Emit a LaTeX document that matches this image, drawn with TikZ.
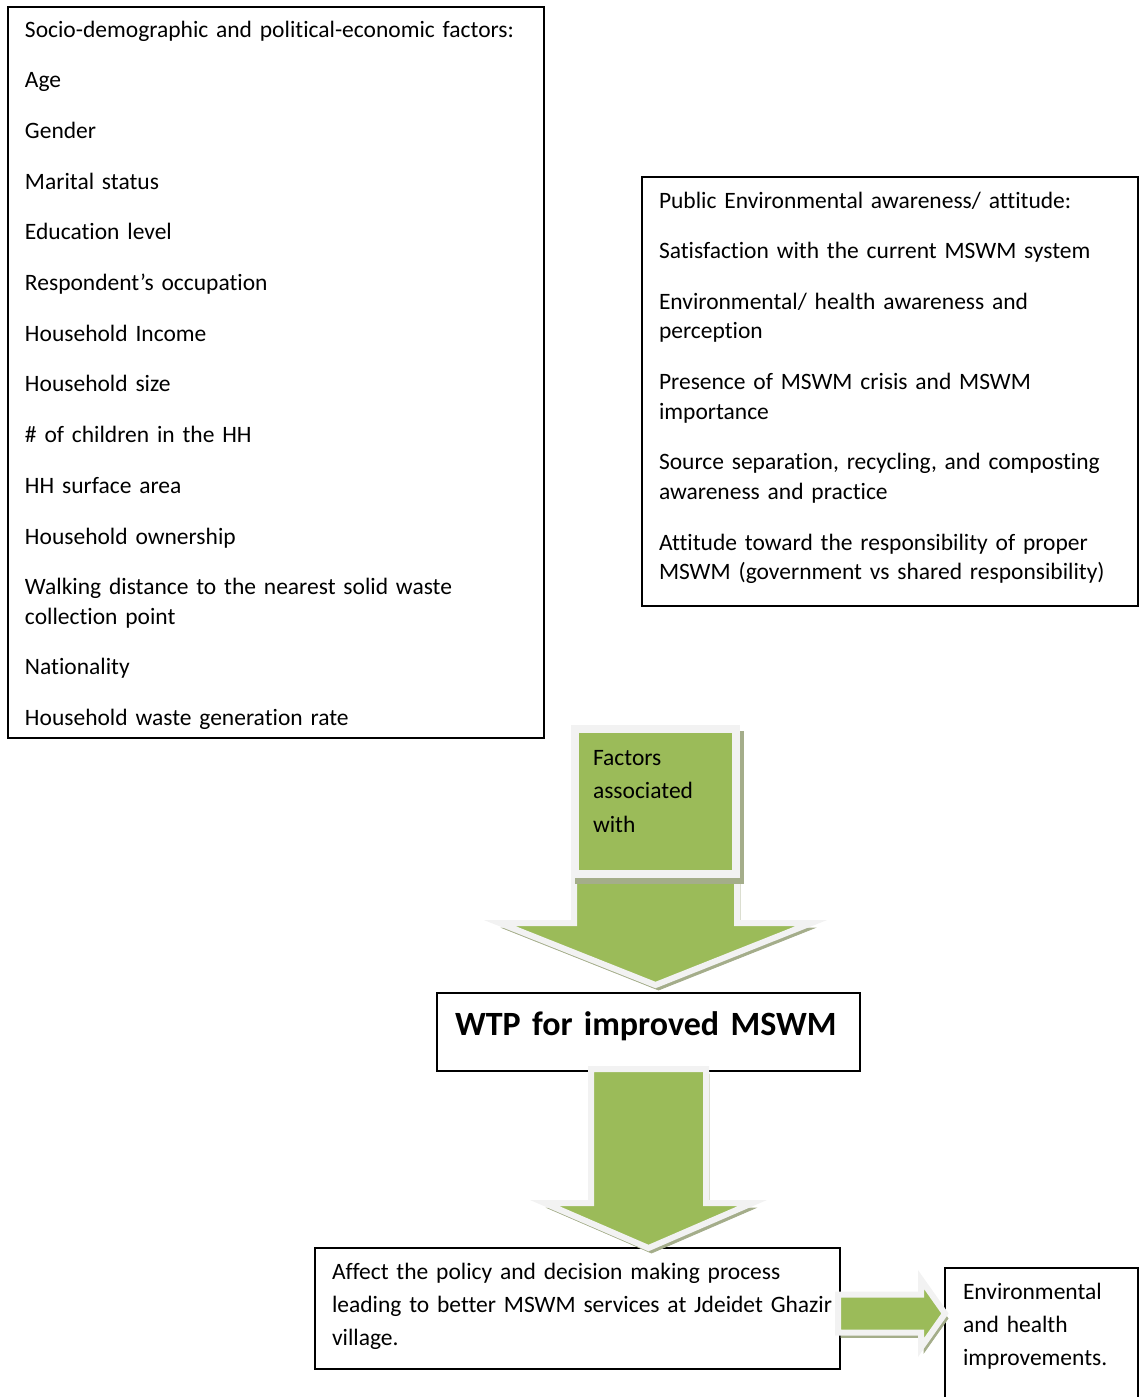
\documentclass[tikz,border=0pt]{standalone}
\usepackage{fontspec}
\setmainfont{Carlito}[Ligatures=NoCommon,WordSpace=0.85]
\usetikzlibrary{calc,backgrounds}
\definecolor{leaf}{HTML}{9BBB59}
\definecolor{rim}{HTML}{F2F2F2}
\definecolor{shade}{HTML}{A4AD8A}
\newcommand\bodyfont{\fontsize{11.75pt}{14.75pt}\selectfont}
\newcommand\wideline{\fontsize{11.75pt}{16.6pt}\selectfont}
% block arrows: #1 start, #2 tip, #3 shaft half width, #4 head half width, #5 head length
\newcommand\blockdown[5]{\path[bigarrow] let \p1=(#1), \p2=(#2) in (\x1-#3,\y1) -- (\x1+#3,\y1) -- (\x1+#3,\y2+#5) -- (\x1+#4,\y2+#5) -- (\x1,\y2) -- (\x1-#4,\y2+#5) -- (\x1-#3,\y2+#5) -- cycle;}
\newcommand\blockright[5]{\path[bigarrow] let \p1=(#1), \p2=(#2) in (\x1,\y1+#3) -- (\x2-#5,\y1+#3) -- (\x2-#5,\y1+#4) -- (\x2,\y1) -- (\x2-#5,\y1-#4) -- (\x2-#5,\y1-#3) -- (\x1,\y1-#3) -- cycle;}
\begin{document}
\begin{tikzpicture}[x=0.5pt,y=-0.5pt,
  box/.style={draw,line width=1pt,outer sep=0pt,anchor=north west,inner xsep=8.5pt,inner ysep=0pt,align=left,font=\bodyfont},
  bigarrow/.style={fill=leaf,draw=rim,line width=3pt,line join=miter,preaction={fill=shade,draw=shade,transform canvas={xshift=1.5pt,yshift=-2.5pt}}},
  greenbox/.style={fill=leaf,draw=rim,line width=4pt,outer sep=0pt,anchor=north west,inner xsep=9pt,inner ysep=0pt,align=left,font=\fontsize{11.75pt}{16.75pt}\selectfont,preaction={fill=shade,draw=shade,transform canvas={xshift=2pt,yshift=-3pt}}}]
\useasboundingbox (0,0) rectangle (1139,1397);
\node[box,text width=251pt,text height=15pt,text depth=350.5pt] (socio) at (8,7) {Socio-demographic and political-economic factors:\\[10.6pt]Age\\[10.6pt]Gender\\[10.6pt]Marital status\\[10.6pt]Education level\\[10.6pt]Respondent’s occupation\\[10.6pt]Household Income\\[10.6pt]Household size\\[10.6pt]\# of children in the HH\\[10.6pt]HH surface area\\[10.6pt]Household ownership\\[10.6pt]Walking distance to the nearest solid waste\\collection point\\[10.6pt]Nationality\\[10.6pt]Household waste generation rate};
\node[box,text width=231pt,text height=15.5pt,text depth=199pt] (public) at (642,177) {Public Environmental awareness/ attitude:\\[10.6pt]Satisfaction with the current MSWM system\\[10.6pt]Environmental/ health awareness and\\perception\\[10.6pt]Presence of MSWM crisis and MSWM\\importance\\[10.6pt]Source separation, recycling, and composting\\awareness and practice\\[10.6pt]Attitude toward the responsibility of proper\\MSWM (government vs shared responsibility)};
\node[greenbox,text width=62.5pt,text height=18.25pt,text depth=54.25pt] (fac) at (575,728.5) {Factors\\associated\\with};
\node[box,inner xsep=9pt,text width=193.5pt,text height=21pt,text depth=18pt,font=\fontsize{17pt}{20pt}\selectfont\bfseries] (wtp) at (437,993) {\mbox{WTP for improved MSWM}};
\node[box,text width=245.5pt,text height=15.5pt,text depth=45pt,font=\wideline] (affect) at (315,1248) {Affect the policy and decision making process\\\mbox{leading to better MSWM services at Jdeidet Ghazir}\\village.};
\node[box,inner xsep=9pt,text width=78.5pt,text height=15.5pt,text depth=60.5pt,font=\wideline] (env) at (945,1268) {Environmental\\and health\\improvements.};
\begin{scope}[on background layer]
\blockdown{fac.south}{$(fac.south |- wtp.north)+(0,-8)$}{40.75pt}{78pt}{31pt}
\end{scope}
\blockdown{$(wtp.south)+(0,-2)$}{wtp.south |- affect.north}{28.75pt}{52pt}{22.5pt}
\blockright{$(affect.east)+(-2,5)$}{$(env.west |- affect.east)+(0,5)$}{9.5pt}{17pt}{12pt}
\end{tikzpicture}
\end{document}
